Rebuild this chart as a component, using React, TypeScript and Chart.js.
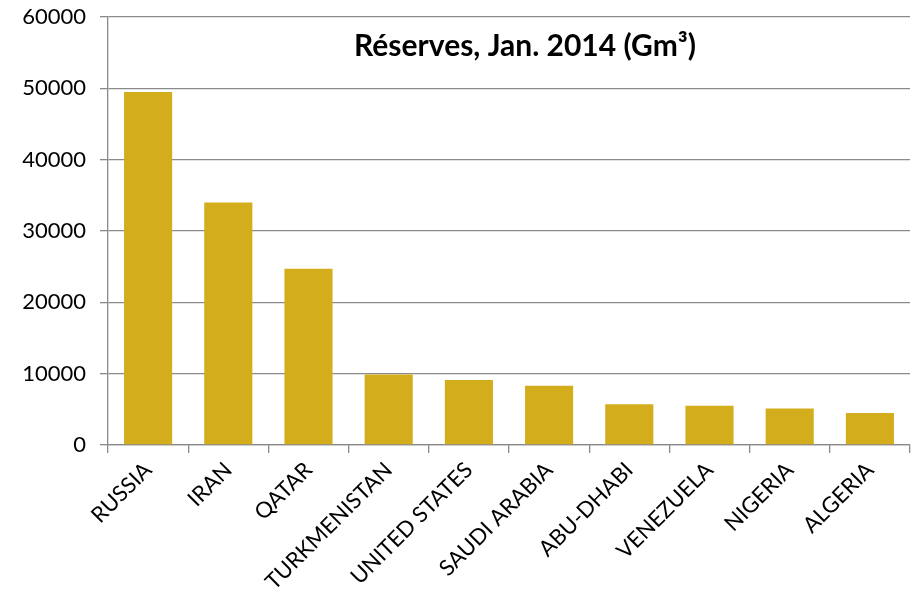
import React, { useEffect, useRef } from "react";
import { Chart, registerables } from "chart.js";

Chart.register(...registerables);

const categories = [
  "RUSSIA",
  "IRAN",
  "QATAR",
  "TURKMENISTAN",
  "UNITED STATES",
  "SAUDI ARABIA",
  "ABU-DHABI",
  "VENEZUELA",
  "NIGERIA",
  "ALGERIA",
];
const reserves = [49500, 34000, 24700, 9900, 9100, 8300, 5700, 5500, 5100, 4500];
const yMin = 0;
const yMax = 60000;
const yStep = 10000;
const chartTitle = "Réserves, Jan. 2014 (Gm³)";

const FONT = "Lato, 'Open Sans', sans-serif";

const titlePlugin = {
  id: "innerTitle",
  afterDraw(chart: any) {
    const { ctx, chartArea } = chart;
    ctx.save();
    ctx.font = `bold 30px ${FONT}`;
    ctx.fillStyle = "#000";
    ctx.textAlign = "center";
    ctx.textBaseline = "middle";
    const x = chartArea.left + (chartArea.right - chartArea.left) * 0.52;
    ctx.fillText(chartTitle, x, chartArea.top + 29);
    ctx.restore();
  },
};

export default function App() {
  const ref = useRef<HTMLCanvasElement>(null);
  useEffect(() => {
    document.body.style.margin = "0";
    const chart = new Chart(ref.current!, {
      type: "bar",
      data: {
        labels: categories,
        datasets: [
          {
            data: reserves,
            backgroundColor: "#D4AD1C",
            borderWidth: 0,
            barPercentage: 0.6,
            categoryPercentage: 1,
          },
        ],
      },
      options: {
        animation: false,
        responsive: true,
        maintainAspectRatio: false,
        layout: { padding: { top: 17, right: 2, left: 0, bottom: 0 } },
        plugins: {
          legend: { display: false },
          tooltip: { enabled: false },
        },
        scales: {
          y: {
            min: yMin,
            max: yMax,
            ticks: {
              stepSize: yStep,
              color: "#000",
              font: { family: FONT, size: 22 },
              padding: 14,
              callback: (v: any) => String(v),
            },
            grid: { color: "#8a8a8a", lineWidth: 1.3, tickLength: 8 },
            border: { color: "#8a8a8a", width: 1.3 },
            afterFit(scale: any) {
              scale.width = 108;
              scale.paddingTop = 0;
              scale.paddingBottom = 0;
            },
          },
          x: {
            offset: true,
            ticks: {
              color: "#000",
              font: { family: FONT, size: 22 },
              maxRotation: 45,
              minRotation: 45,
              padding: 4,
              autoSkip: false,
            },
            grid: {
              offset: true,
              drawOnChartArea: false,
              color: "#8a8a8a",
              lineWidth: 1.3,
              tickLength: 8,
            },
            border: { color: "#8a8a8a", width: 1.3 },
            afterFit(scale: any) {
              scale.height = 156;
              scale.paddingLeft = 0;
              scale.paddingRight = 0;
            },
          },
        },
      },
      plugins: [titlePlugin],
    });
    return () => chart.destroy();
  }, []);
  return (
    <div style={{ width: 912, height: 601, position: "relative" }}>
      <canvas ref={ref} />
    </div>
  );
}
